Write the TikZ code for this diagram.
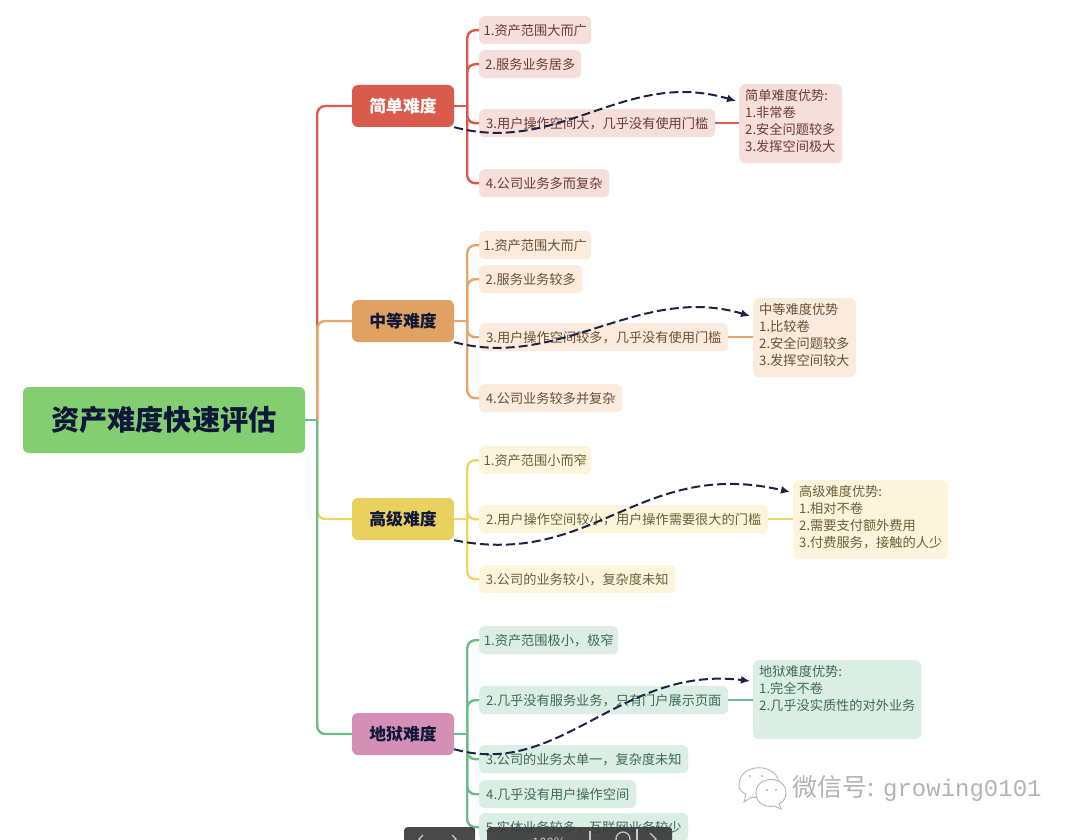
\documentclass[tikz,border=0pt]{standalone}
\usepackage{fontspec}
\setmainfont{Noto Sans CJK SC}
\newfontfamily\wmlatin{Liberation Mono}
\usetikzlibrary{arrows.meta,calc}
\definecolor{redL}{HTML}{D95B4B}\definecolor{redB}{HTML}{F6DEDA}\definecolor{redT}{HTML}{6B3A33}
\definecolor{orgL}{HTML}{E5A56B}\definecolor{orgM}{HTML}{E0A263}\definecolor{orgB}{HTML}{FAEBDD}\definecolor{orgT}{HTML}{6B4F33}
\definecolor{yelL}{HTML}{EFD463}\definecolor{yelM}{HTML}{EAD05E}\definecolor{yelB}{HTML}{FCF5DB}\definecolor{yelT}{HTML}{6B6038}
\definecolor{grnL}{HTML}{6DBB8A}\definecolor{grnB}{HTML}{DAEEE3}\definecolor{grnT}{HTML}{3E6B55}
\definecolor{pinkM}{HTML}{D48FB5}\definecolor{rootC}{HTML}{84CE72}\definecolor{inkC}{HTML}{0F1838}\definecolor{dashC}{HTML}{1D2345}
\definecolor{barC}{HTML}{3A3A3A}\definecolor{barT}{HTML}{C8C8C8}\definecolor{markC}{HTML}{B4B4B4}
\tikzset{
 x=1pt,y=-1pt,
 lvlbox/.style={rounded corners=6pt,inner sep=0pt,minimum width=102pt,minimum height=42pt,font=\fontsize{16.8}{20}\selectfont\bfseries},
 conn/.style={line width=2.4pt,rounded corners=8pt},
 stub/.style={line width=2.4pt},
 jump/.style={dashC,line width=2pt,dash pattern=on 9pt off 4pt,-{Latex[length=9pt,width=8pt]}},
 toolbar/.style={fill=barC,fill opacity=.92,rounded corners=3pt,inner sep=0pt,anchor=north west,minimum height=20pt},
 barmark/.style={barT,line width=1.2pt},
}
\newcommand{\leaf}[7]{\node[rounded corners=5pt,inner sep=0pt,fill=#6,text=#7,minimum width=#4pt,minimum height=28pt,anchor=north west,font=\fontsize{13.2}{16}\selectfont,align=left] (#1) at (#2,#3) {#5};}
\newcommand{\adv}[8]{\node[rounded corners=6pt,fill=#7,minimum width=#4pt,minimum height=#5pt,anchor=north west,inner sep=0pt] (#1) at (#2,#3) {};\node[text=#8,anchor=north west,inner sep=0pt,font=\fontsize{13.2}{17}\selectfont,align=left] (#1t) at ($(#1.north west)+(6,5)$) {#6};}
\begin{document}
\begin{tikzpicture}
\useasboundingbox (0,0) rectangle (1080,840);
\clip (0,0) rectangle (1080,840);
\fill[white] (0,0) rectangle (1080,840);
% nodes
\node[rounded corners=6pt,fill=rootC,text=inkC,minimum width=282pt,minimum height=66pt,inner sep=0pt,font=\fontsize{28.2}{32}\selectfont\bfseries] (root) at (164,420) {资产难度快速评估};
\node[lvlbox,fill=redL,text=white] (l1) at (403,106) {简单难度};
\node[lvlbox,fill=orgM,text=inkC] (l2) at (403,321) {中等难度};
\node[lvlbox,fill=yelM,text=inkC] (l3) at (403,519) {高级难度};
\node[lvlbox,fill=pinkM,text=inkC] (l4) at (403,734) {地狱难度};
\leaf{a1}{479}{16}{112}{1.资产范围大而广}{redB}{redT}
\leaf{a2}{479}{50}{102}{2.服务业务居多}{redB}{redT}
\leaf{a3}{479}{109}{236}{3.用户操作空间大，几乎没有使用门槛}{redB}{redT}
\leaf{a4}{479}{169}{130}{4.公司业务多而复杂}{redB}{redT}
\adv{aa}{739}{84}{103}{79}{简单难度优势:\\1.非常卷\\2.安全问题较多\\3.发挥空间极大}{redB}{redT}
\leaf{b1}{479}{231}{112}{1.资产范围大而广}{orgB}{orgT}
\leaf{b2}{479}{265}{103}{2.服务业务较多}{orgB}{orgT}
\leaf{b3}{479}{323}{249}{3.用户操作空间较多，几乎没有使用门槛}{orgB}{orgT}
\leaf{b4}{479}{384}{143}{4.公司业务较多并复杂}{orgB}{orgT}
\adv{ba}{753}{298}{103}{79}{中等难度优势\\1.比较卷\\2.安全问题较多\\3.发挥空间较大}{orgB}{orgT}
\leaf{c1}{479}{446}{112}{1.资产范围小而窄}{yelB}{yelT}
\leaf{c2}{479}{505}{289}{2.用户操作空间较小，用户操作需要很大的门槛}{yelB}{yelT}
\leaf{c3}{479}{565}{196}{3.公司的业务较小，复杂度未知}{yelB}{yelT}
\adv{ca}{793}{480}{155}{79}{高级难度优势:\\1.相对不卷\\2.需要支付额外费用\\3.付费服务，接触的人少}{yelB}{yelT}
\leaf{d1}{479}{626}{139}{1.资产范围极小，极窄}{grnB}{grnT}
\leaf{d2}{479}{686}{249}{2.几乎没有服务业务，只有门户展示页面}{grnB}{grnT}
\leaf{d3}{479}{745}{209}{3.公司的业务太单一，复杂度未知}{grnB}{grnT}
\leaf{d4}{479}{780}{157}{4.几乎没有用户操作空间}{grnB}{grnT}
\leaf{d5}{479}{813}{209}{5.实体业务较多，互联网业务较少}{grnB}{grnT}
\adv{da}{753}{660}{168}{79}{地狱难度优势:\\1.完全不卷\\2.几乎没实质性的对外业务}{grnB}{grnT}
% connector junctions
\coordinate (T) at ($(root.east)+(12,0)$);
\coordinate (t1) at ($(l1.east)+(13,0)$);
\coordinate (t2) at ($(l2.east)+(13,0)$);
\coordinate (t3) at ($(l3.east)+(13,0)$);
\coordinate (t4) at ($(l4.east)+(13,0)$);
\draw[conn,redL] (T) |- (l1.west);
\draw[conn,orgL] (T) |- (l2.west);
\draw[conn,yelL] (T) |- (l3.west);
\draw[conn,grnL] (T) |- (l4.west);
\draw[stub,grnL] (root.east) -- (T);
\draw[stub,redL] (l1.east) -- (t1);
\foreach \n in {a1,a2,a3,a4}{\draw[conn,redL] (t1) |- (\n.west);}
\draw[stub,redL] (a3.east) -- (a3.east -| aa.west);
\draw[stub,orgL] (l2.east) -- (t2);
\foreach \n in {b1,b2,b3,b4}{\draw[conn,orgL] (t2) |- (\n.west);}
\draw[stub,orgL] (b3.east) -- (b3.east -| ba.west);
\draw[stub,yelL] (l3.east) -- (t3);
\foreach \n in {c1,c2,c3}{\draw[conn,yelL] (t3) |- (\n.west);}
\draw[stub,yelL] (c2.east) -- (c2.east -| ca.west);
\draw[stub,grnL] (l4.east) -- (t4);
\foreach \n in {d1,d2,d3,d4,d5}{\draw[conn,grnL] (t4) |- (\n.west);}
\draw[stub,grnL] (d2.east) -- (d2.east -| da.west);
% dashed jumps
\draw[jump] (l1.south east) .. controls +(106,28) and +(-111,-33) .. ($(aa.north west)+(-3,17)$);
\draw[jump] (l2.south east) .. controls +(106,28) and +(-110,-33) .. ($(ba.north west)+(-3,18)$);
\draw[jump] (l3.south east) .. controls +(140,28) and +(-150,-35) .. ($(ca.north west)+(-3,12)$);
\draw[jump] ($(l4.south east)+(0,-6)$) .. controls +(106,30) and +(-130,-16) .. ($(da.north west)+(-3,21)$);
% viewer toolbar
\node[toolbar,minimum width=71pt] (tbl) at (404,827) {};
\node[toolbar,minimum width=185pt] (tbr) at (487,827) {};
\draw[barmark] ($(tbl.north west)+(19,8)$) -- ++(-4,4) -- ++(4,4);
\draw[barmark] ($(tbl.north west)+(48,8)$) -- ++(4,4) -- ++(-4,4);
\node[text=barT,inner sep=0pt,font=\fontsize{13}{16}\selectfont] (zoomlabel) at ($(tbr.north west)+(62,16)$) {100\%};
\draw[barmark] ($(tbr.north west)+(103,4)$) -- ++(0,14);
\draw[barmark] ($(tbr.north west)+(136,12)$) circle[radius=7];
\draw[barmark] ($(tbr.north west)+(150,2)$) -- ++(0,14);
\draw[barmark] ($(tbr.north west)+(163,6)$) -- ++(6,6) -- ++(-6,6);
% watermark
\node[text=markC,anchor=west,inner sep=0pt,font=\fontsize{25}{28}\selectfont] (wm) at (792,788) {微信号:\hspace{9pt}{\wmlatin\fontsize{24}{28}\selectfont growing0101}};
\begin{scope}[markC,line width=.9pt,fill=white]
\filldraw (739,785) .. controls (739,762) and (779,762) .. (779,785) .. controls (779,796) and (762,800) .. (752,797) -- (744,802) -- (746,794) .. controls (741,792) and (739,789) .. (739,785) -- cycle;
\filldraw (756,793) .. controls (756,775) and (786,775) .. (786,793) .. controls (786,800) and (781,803) .. (779,804) -- (781,809) -- (774,806) .. controls (765,808) and (756,803) .. (756,793) -- cycle;
\fill[markC] (750,776) circle[radius=1.2] (762,776) circle[radius=1.2] (767,790) circle[radius=1.1] (776,790) circle[radius=1.1];
\end{scope}
\end{tikzpicture}
\end{document}
